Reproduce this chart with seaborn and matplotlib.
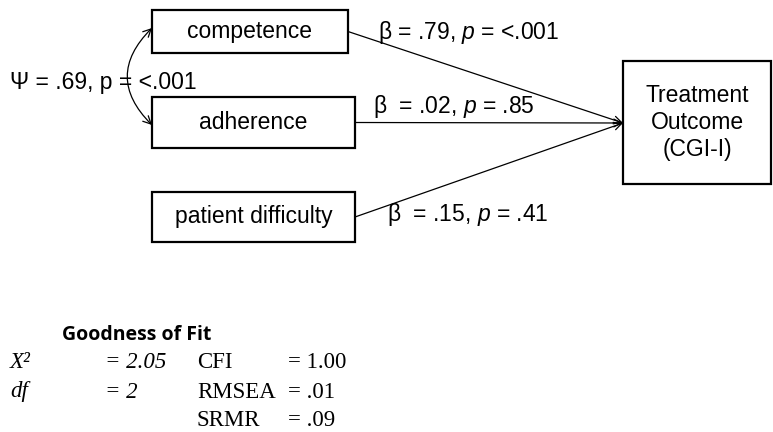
import matplotlib
matplotlib.use("Agg")
import matplotlib.pyplot as plt
import seaborn as sns
from matplotlib.patches import Rectangle, FancyArrowPatch

# path model values
predictors = ["competence", "adherence", "patient difficulty"]
betas = [".79", ".02", ".15"]
pvals = ["<.001", ".85", ".41"]
outcome_label = "Treatment\nOutcome\n(CGI-I)"
psi_value = ".69"
psi_p = "<.001"

# goodness of fit
fit_left_names = ["X²", "df"]
fit_left_values = ["2.05", "2"]
fit_right_names = ["CFI", "RMSEA", "SRMR"]
fit_right_values = ["1.00", ".01", ".09"]

sns.set_style("white")
plt.rcParams["font.family"] = ["Liberation Sans", "DejaVu Sans"]
plt.rcParams["text.color"] = "black"
plt.rcParams["mathtext.fontset"] = "custom"
plt.rcParams["mathtext.rm"] = "Liberation Sans"
plt.rcParams["mathtext.it"] = "Liberation Sans:italic"

fig = plt.figure(figsize=(7.73, 4.32), dpi=100)
ax = fig.add_axes([0, 0, 1, 1])
ax.set_xlim(0, 773)
ax.set_ylim(432, 0)
ax.axis("off")

fs = 16.5
# predictor boxes (x0, y0, x1, y1)
boxes = [(152, 10, 348, 53), (152, 97, 355, 148), (152, 192, 355, 242)]
out_box = (623, 61, 771, 184)
tip = (623, 123)

for name, (x0, y0, x1, y1) in zip(predictors, boxes):
    ax.add_patch(Rectangle((x0, y0), x1 - x0, y1 - y0, fill=False, lw=1.6, ec="black"))
    ax.text((x0 + x1) / 2, (y0 + y1) / 2, name, ha="center", va="center", fontsize=fs)

x0, y0, x1, y1 = out_box
ax.add_patch(Rectangle((x0, y0), x1 - x0, y1 - y0, fill=False, lw=1.6, ec="black"))
ax.text((x0 + x1) / 2, (y0 + y1) / 2, outcome_label, ha="center", va="center",
        fontsize=fs, linespacing=1.2)

# paths
for (bx0, by0, bx1, by1) in boxes:
    ax.annotate("", xy=tip, xytext=(bx1, (by0 + by1) / 2),
                arrowprops=dict(arrowstyle="->", lw=0.9, color="black",
                                shrinkA=0, shrinkB=0, mutation_scale=14))

label_pos = [(378, 33), (373, 107), (387, 215)]
gaps = ["", " ", " "]
for (lx, ly), b, p, g in zip(label_pos, betas, pvals, gaps):
    ax.text(lx, ly, "β " + g + "= " + b + ", $p$ = " + p, ha="left", va="center", fontsize=fs)

# covariance
cov = FancyArrowPatch((152, 28), (152, 125), arrowstyle="<->", connectionstyle="arc3,rad=0.5",
                      lw=0.9, color="black", mutation_scale=14, shrinkA=0, shrinkB=0)
ax.add_patch(cov)
ax.text(10, 82, "Ψ = " + psi_value + ", p = " + psi_p, ha="left", va="center", fontsize=fs)

# fit table
ax.text(62, 335, "Goodness of Fit", ha="left", va="center", fontsize=14,
        fontweight="bold", family=["Open Sans", "DejaVu Sans"])
serif = ["Liberation Serif", "DejaVu Serif"]
sfs = 16.5
rows_y = [363, 392, 420]
for i, (n, v) in enumerate(zip(fit_left_names, fit_left_values)):
    ax.text(10, rows_y[i], n, ha="left", va="center", fontsize=sfs, family=serif, style="italic")
    ax.text(105, rows_y[i], "= " + v, ha="left", va="center", fontsize=sfs, family=serif, style="italic")
for i, (n, v) in enumerate(zip(fit_right_names, fit_right_values)):
    ax.text(197, rows_y[i], n, ha="left", va="center", fontsize=sfs, family=serif)
    ax.text(288, rows_y[i], "= " + v, ha="left", va="center", fontsize=sfs, family=serif)

fig.savefig("out.png", dpi=100)
